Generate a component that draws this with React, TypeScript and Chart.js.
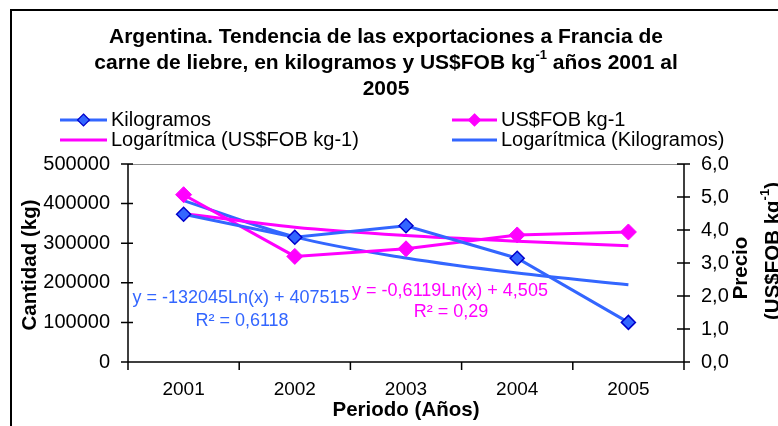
import React, { useEffect, useRef } from "react";
import { Chart, registerables } from "chart.js";
Chart.register(...registerables);

const years = ["2001", "2002", "2003", "2004", "2005"];
const kilogramos = [373000, 315000, 344000, 262000, 100000];
const precio = [5.07, 3.2, 3.43, 3.85, 3.94];
const tendenciaKg = [407500, 316000, 262500, 224500, 195000];
const tendenciaPrecio = [4.5, 4.08, 3.83, 3.66, 3.52];

const titleLines = [
  [{ t: "Argentina. Tendencia de las exportaciones a Francia de" }],
  [{ t: "carne de liebre, en kilogramos y US$FOB kg" }, { t: "-1", sup: true }, { t: " años 2001 al" }],
  [{ t: "2005" }],
];
const legendItems = [
  { label: "Kilogramos", color: "#3366FF", marker: true, border: "#0000CC" },
  { label: "US$FOB kg-1", color: "#FF00FF", marker: true, border: "#FF00FF" },
  { label: "Logarítmica (US$FOB kg-1)", color: "#FF00FF", marker: false, border: "" },
  { label: "Logarítmica (Kilogramos)", color: "#3366FF", marker: false, border: "" },
];
const eqKg = ["y = -132045Ln(x) + 407515", "R² = 0,6118"];
const eqPrecio = ["y = -0,6119Ln(x) + 4,505", "R² = 0,29"];

const FONT = '"Liberation Sans", Arial, sans-serif';
const BLUE = "#3366FF";
const PINK = "#FF00FF";

type Part = { t: string; sup?: boolean };

function drawParts(ctx: CanvasRenderingContext2D, parts: Part[], x: number, y: number, size: number, bold: boolean, align: "center" | "left") {
  const w = bold ? "bold " : "";
  const base = `${w}${size}px ${FONT}`;
  const sup = `${w}${Math.round(size * 0.62)}px ${FONT}`;
  let total = 0;
  for (const p of parts) {
    ctx.font = p.sup ? sup : base;
    total += ctx.measureText(p.t).width;
  }
  let cx = align === "center" ? x - total / 2 : x;
  ctx.textAlign = "left";
  ctx.textBaseline = "middle";
  for (const p of parts) {
    ctx.font = p.sup ? sup : base;
    ctx.fillText(p.t, cx, p.sup ? y - size * 0.38 : y);
    cx += ctx.measureText(p.t).width;
  }
}

function diamond(ctx: CanvasRenderingContext2D, x: number, y: number, r: number, fill: string, stroke: string) {
  ctx.beginPath();
  ctx.moveTo(x, y - r);
  ctx.lineTo(x + r, y);
  ctx.lineTo(x, y + r);
  ctx.lineTo(x - r, y);
  ctx.closePath();
  ctx.fillStyle = fill;
  ctx.fill();
  ctx.lineWidth = 1.2;
  ctx.strokeStyle = stroke;
  ctx.stroke();
}

const decoPlugin = {
  id: "deco",
  beforeDatasetsDraw(chart: any) {
    const ctx: CanvasRenderingContext2D = chart.ctx;
    const { left, right, top, bottom } = chart.chartArea;
    const y = chart.scales.y;
    const y1 = chart.scales.y1;
    const x = chart.scales.x;
    ctx.save();
    ctx.strokeStyle = "#909090";
    ctx.lineWidth = 1;
    ctx.beginPath();
    ctx.moveTo(left, top + 0.5);
    ctx.lineTo(right, top + 0.5);
    ctx.stroke();
    ctx.strokeStyle = "#000";
    ctx.lineWidth = 1.5;
    ctx.beginPath();
    ctx.moveTo(left, top);
    ctx.lineTo(left, bottom + 5);
    ctx.moveTo(right, top);
    ctx.lineTo(right, bottom + 5);
    ctx.moveTo(left - 7, bottom);
    ctx.lineTo(right + 6, bottom);
    for (const t of y.ticks) {
      const py = y.getPixelForValue(t.value);
      ctx.moveTo(left - 7, py);
      ctx.lineTo(left + 5, py);
    }
    for (const t of y1.ticks) {
      const py = y1.getPixelForValue(t.value);
      ctx.moveTo(right - 7, py);
      ctx.lineTo(right + 6, py);
    }
    const n = x.ticks.length;
    for (let i = 0; i <= n; i++) {
      const px = i < n ? x.getPixelForTick(i) - (x.getPixelForTick(1) - x.getPixelForTick(0)) / 2 : right;
      ctx.moveTo(px, bottom);
      ctx.lineTo(px, bottom + 8);
    }
    ctx.stroke();
    ctx.restore();
  },
  afterDraw(chart: any) {
    const ctx: CanvasRenderingContext2D = chart.ctx;
    ctx.save();
    // outer frame
    ctx.strokeStyle = "#000";
    ctx.lineWidth = 2;
    ctx.beginPath();
    ctx.moveTo(11, 426);
    ctx.lineTo(11, 10);
    ctx.lineTo(778, 10);
    ctx.stroke();
    // title
    ctx.fillStyle = "#000";
    const ty = [37, 63, 89];
    titleLines.forEach((l, i) => drawParts(ctx, l, 386, ty[i], 21, true, "center"));
    // legend
    const pos = [
      { lx: 60, rx: 107, tx: 111, y: 120 },
      { lx: 452, rx: 497, tx: 501, y: 120 },
      { lx: 60, rx: 107, tx: 111, y: 140 },
      { lx: 452, rx: 497, tx: 501, y: 140 },
    ];
    legendItems.forEach((it, i) => {
      const p = pos[i];
      ctx.strokeStyle = it.color;
      ctx.lineWidth = 3;
      ctx.beginPath();
      ctx.moveTo(p.lx, p.y);
      ctx.lineTo(p.rx, p.y);
      ctx.stroke();
      if (it.marker) diamond(ctx, (p.lx + p.rx) / 2, p.y, 6, it.color, it.border);
      ctx.fillStyle = "#000";
      drawParts(ctx, [{ t: it.label }], p.tx, p.y, 20, false, "left");
    });
    // axis titles
    ctx.fillStyle = "#000";
    ctx.save();
    ctx.translate(30, 265);
    ctx.rotate(-Math.PI / 2);
    drawParts(ctx, [{ t: "Cantidad (kg)" }], 0, 0, 20.5, true, "center");
    ctx.restore();
    ctx.save();
    ctx.translate(741, 268);
    ctx.rotate(-Math.PI / 2);
    drawParts(ctx, [{ t: "Precio" }], 0, 0, 20.5, true, "center");
    ctx.restore();
    ctx.save();
    ctx.translate(773, 251);
    ctx.rotate(-Math.PI / 2);
    drawParts(ctx, [{ t: "(US$FOB kg" }, { t: "-1", sup: true }, { t: ")" }], 0, 0, 20.5, true, "center");
    ctx.restore();
    drawParts(ctx, [{ t: "Periodo (Años)" }], 406, 410, 20.5, true, "center");
    // equations
    ctx.fillStyle = BLUE;
    drawParts(ctx, [{ t: eqKg[0] }], 241, 298, 18, false, "center");
    drawParts(ctx, [{ t: eqKg[1] }], 242, 321, 18, false, "center");
    ctx.fillStyle = PINK;
    drawParts(ctx, [{ t: eqPrecio[0] }], 450, 291, 18, false, "center");
    drawParts(ctx, [{ t: eqPrecio[1] }], 451, 312, 18, false, "center");
    ctx.restore();
  },
};

export default function App() {
  const ref = useRef<HTMLCanvasElement>(null);
  useEffect(() => {
    if (!ref.current) return;
    const chart = new Chart(ref.current, {
      type: "line",
      data: {
        labels: years,
        datasets: [
          {
            label: "Kilogramos",
            data: kilogramos,
            yAxisID: "y",
            borderColor: BLUE,
            backgroundColor: BLUE,
            borderWidth: 3,
            pointStyle: "rectRot",
            pointRadius: 7,
            pointBackgroundColor: BLUE,
            pointBorderColor: "#0000CC",
            pointBorderWidth: 1.5,
            tension: 0,
          },
          {
            label: "US$FOB kg-1",
            data: precio,
            yAxisID: "y1",
            borderColor: PINK,
            backgroundColor: PINK,
            borderWidth: 3,
            pointStyle: "rectRot",
            pointRadius: 8,
            pointBackgroundColor: PINK,
            pointBorderColor: PINK,
            pointBorderWidth: 1,
            tension: 0,
          },
          {
            label: "Logarítmica (US$FOB kg-1)",
            data: tendenciaPrecio,
            yAxisID: "y1",
            borderColor: PINK,
            borderWidth: 3,
            pointRadius: 0,
            cubicInterpolationMode: "monotone",
          },
          {
            label: "Logarítmica (Kilogramos)",
            data: tendenciaKg,
            yAxisID: "y",
            borderColor: BLUE,
            borderWidth: 3,
            pointRadius: 0,
            cubicInterpolationMode: "monotone",
          },
        ],
      },
      options: {
        responsive: false,
        animation: false,
        devicePixelRatio: 1,
        layout: { padding: { top: 164, left: 0, right: 0, bottom: 0 } },
        plugins: { legend: { display: false }, title: { display: false }, tooltip: { enabled: false } },
        scales: {
          x: {
            type: "category",
            offset: true,
            grid: { display: false, drawTicks: false },
            border: { display: false },
            ticks: { color: "#000", font: { family: FONT, size: 19 }, padding: 16, maxRotation: 0 },
            afterFit: (s: any) => { s.height = 64; },
          },
          y: {
            position: "left",
            min: 0,
            max: 500000,
            grid: { display: false, drawTicks: false },
            border: { display: false },
            ticks: { stepSize: 100000, color: "#000", font: { family: FONT, size: 20 }, padding: 18, callback: (v: any) => String(v) },
            afterFit: (s: any) => { s.width = 128; },
          },
          y1: {
            position: "right",
            min: 0,
            max: 6,
            grid: { display: false, drawTicks: false },
            border: { display: false },
            ticks: { stepSize: 1, color: "#000", font: { family: FONT, size: 20 }, padding: 17, callback: (v: any) => Number(v).toFixed(1).replace(".", ",") },
            afterFit: (s: any) => { s.width = 94; },
          },
        },
      },
      plugins: [decoPlugin],
    });
    return () => chart.destroy();
  }, []);
  return (
    <div style={{ position: "absolute", left: 0, top: 0, width: 778, height: 426, background: "#fff" }}>
      <canvas ref={ref} width={778} height={426} style={{ display: "block" }} />
    </div>
  );
}
